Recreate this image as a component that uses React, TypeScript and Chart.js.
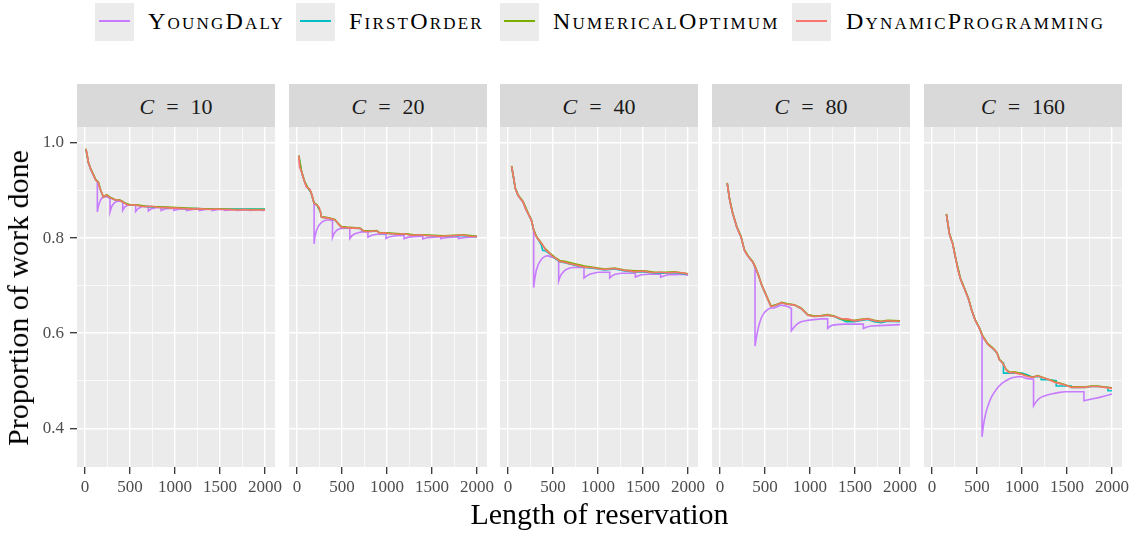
import React, { useEffect, useRef } from 'react';
import { Chart, registerables } from 'chart.js';

Chart.register(...registerables);

type Pts = [number, number][];

// ---------- labels ----------
const seriesNames = ['YoungDaly', 'FirstOrder', 'NumericalOptimum', 'DynamicProgramming'];
const seriesColors = ['#C77CFF', '#00BFC4', '#7CAE00', '#F8766D'];
const checkpointCosts = [10, 20, 40, 80, 160];
const xTickLabels = [0, 500, 1000, 1500, 2000];
const xMinorTicks = [250, 750, 1250, 1750];
const yTickLabels = [0.4, 0.6, 0.8, 1.0];
const yMinorTicks = [0.5, 0.7, 0.9];
const xTitle = 'Length of reservation';
const yTitle = 'Proportion of work done';

// ---------- C = 10 ----------
const c10Dp: Pts = [[10,0.987],[20,0.980],[37,0.959],[50,0.952],[63,0.945],[80,0.937],[93,0.933],[110,0.925],[119,0.922],[137,0.919],[148,0.917],[160,0.908],[174,0.900],[190,0.893],[204,0.886],[225,0.889],[241,0.890],[260,0.887],[278,0.885],[300,0.883],[333,0.880],[360,0.880],[389,0.879],[420,0.875],[444,0.873],[470,0.870],[500,0.869],[540,0.870],[574,0.869],[620,0.867],[685,0.866],[740,0.867],[796,0.865],[850,0.864],[907,0.864],[960,0.863],[1019,0.863],[1080,0.862],[1130,0.862],[1190,0.861],[1241,0.862],[1320,0.861],[1389,0.860],[1460,0.861],[1537,0.860],[1610,0.860],[1685,0.859],[1760,0.860],[1833,0.859],[1920,0.859],[2000,0.859]];
const c10No: Pts = [[10,0.988],[37,0.960],[63,0.946],[93,0.934],[119,0.923],[148,0.918],[174,0.901],[204,0.887],[241,0.891],[278,0.886],[333,0.881],[389,0.880],[444,0.874],[500,0.870],[574,0.870],[685,0.867],[796,0.866],[907,0.865],[1019,0.864],[1130,0.863],[1241,0.862],[1389,0.861],[1537,0.861],[1685,0.860],[1833,0.860],[2000,0.860]];
const c10Fo: Pts = [[10,0.987],[37,0.959],[63,0.945],[93,0.933],[119,0.922],[148,0.917],[174,0.900],[204,0.886],[241,0.890],[278,0.885],[333,0.880],[389,0.879],[444,0.873],[500,0.869],[574,0.869],[685,0.866],[796,0.865],[907,0.864],[1019,0.863],[1130,0.862],[1241,0.862],[1389,0.861],[1537,0.861],[1685,0.861],[1833,0.861],[2000,0.861]];
const c10Yd: Pts = [[10,0.987],[37,0.959],[63,0.945],[93,0.933],[119,0.922],[137,0.918],[137,0.855],[150,0.868],[165,0.877],[185,0.884],[210,0.887],[240,0.887],[278,0.884],[278,0.855],[295,0.866],[320,0.873],[350,0.877],[385,0.878],[419,0.877],[419,0.858],[440,0.865],[470,0.869],[510,0.870],[563,0.869],[563,0.856],[590,0.862],[630,0.866],[704,0.867],[704,0.857],[740,0.862],[790,0.864],[845,0.865],[845,0.858],[900,0.862],[987,0.863],[987,0.858],[1050,0.861],[1128,0.862],[1128,0.858],[1200,0.860],[1270,0.861],[1270,0.858],[1340,0.860],[1411,0.861],[1411,0.858],[1480,0.860],[1552,0.860],[1552,0.858],[1620,0.859],[1693,0.860],[1693,0.858],[1760,0.859],[1834,0.859],[1834,0.858],[1900,0.859],[1975,0.859],[1975,0.858],[2000,0.859]];

// ---------- C = 20 ----------
const c20Dp: Pts = [[20,0.973],[30,0.949],[50,0.940],[67,0.928],[85,0.918],[104,0.908],[120,0.905],[141,0.903],[155,0.896],[167,0.890],[180,0.880],[190,0.873],[205,0.871],[223,0.869],[245,0.865],[260,0.855],[271,0.844],[290,0.843],[308,0.843],[335,0.842],[364,0.841],[390,0.840],[420,0.838],[440,0.835],[457,0.830],[475,0.826],[494,0.823],[520,0.822],[550,0.822],[590,0.821],[624,0.821],[660,0.821],[699,0.820],[720,0.818],[736,0.815],[770,0.814],[810,0.814],[850,0.815],[885,0.815],[905,0.812],[922,0.810],[960,0.811],[996,0.810],[1030,0.809],[1071,0.809],[1110,0.808],[1145,0.808],[1180,0.809],[1219,0.808],[1260,0.806],[1294,0.806],[1350,0.807],[1405,0.806],[1460,0.805],[1517,0.805],[1570,0.804],[1628,0.804],[1680,0.805],[1740,0.805],[1800,0.806],[1851,0.806],[1920,0.804],[2000,0.803]];
const c20No: Pts = [[20,0.974],[50,0.941],[85,0.919],[120,0.906],[155,0.897],[190,0.874],[223,0.870],[260,0.856],[271,0.845],[308,0.844],[364,0.842],[420,0.839],[457,0.831],[494,0.824],[550,0.823],[624,0.822],[699,0.821],[736,0.816],[810,0.815],[885,0.816],[922,0.811],[996,0.811],[1071,0.810],[1145,0.809],[1219,0.809],[1294,0.807],[1405,0.807],[1517,0.806],[1628,0.805],[1740,0.806],[1851,0.807],[2000,0.804]];
const c20Fo: Pts = [[20,0.973],[50,0.940],[85,0.918],[120,0.905],[155,0.896],[190,0.873],[223,0.869],[260,0.855],[271,0.844],[308,0.843],[364,0.841],[420,0.838],[457,0.830],[494,0.823],[550,0.822],[624,0.821],[699,0.820],[736,0.815],[810,0.814],[885,0.815],[922,0.810],[996,0.810],[1071,0.809],[1145,0.808],[1219,0.808],[1294,0.806],[1405,0.806],[1517,0.805],[1628,0.804],[1740,0.805],[1851,0.805],[2000,0.803]];
const c20Yd: Pts = [[20,0.973],[30,0.949],[50,0.940],[67,0.928],[85,0.918],[104,0.908],[120,0.905],[141,0.903],[155,0.896],[167,0.890],[180,0.880],[190,0.873],[190,0.788],[200,0.805],[216,0.816],[235,0.824],[253,0.829],[280,0.834],[308,0.837],[340,0.838],[364,0.838],[394,0.837],[394,0.801],[410,0.809],[439,0.816],[465,0.819],[494,0.820],[540,0.821],[587,0.821],[587,0.799],[610,0.805],[643,0.809],[680,0.811],[717,0.813],[788,0.813],[788,0.802],[830,0.806],[885,0.808],[989,0.808],[989,0.799],[1030,0.803],[1100,0.805],[1189,0.806],[1189,0.799],[1240,0.802],[1300,0.803],[1398,0.804],[1398,0.798],[1450,0.801],[1520,0.802],[1598,0.803],[1598,0.799],[1650,0.801],[1720,0.802],[1795,0.803],[1795,0.799],[1850,0.801],[1920,0.802],[2000,0.803]];

// ---------- C = 40 ----------
const c40Dp: Pts = [[40,0.951],[60,0.930],[80,0.905],[111,0.890],[140,0.882],[167,0.876],[195,0.862],[222,0.852],[240,0.845],[259,0.838],[285,0.817],[300,0.808],[315,0.803],[340,0.796],[370,0.789],[390,0.784],[407,0.778],[430,0.773],[463,0.768],[490,0.762],[518,0.759],[545,0.755],[574,0.751],[600,0.750],[630,0.749],[680,0.746],[740,0.744],[800,0.741],[852,0.739],[900,0.738],[963,0.737],[1020,0.735],[1074,0.734],[1130,0.735],[1185,0.736],[1240,0.734],[1296,0.732],[1350,0.731],[1407,0.729],[1460,0.730],[1519,0.730],[1570,0.728],[1630,0.727],[1690,0.728],[1741,0.727],[1800,0.727],[1852,0.728],[1920,0.727],[1970,0.726],[2000,0.724]];
const c40No: Pts = [[40,0.952],[80,0.906],[111,0.891],[167,0.877],[222,0.853],[259,0.839],[285,0.818],[315,0.804],[370,0.790],[407,0.779],[463,0.769],[518,0.760],[574,0.753],[630,0.751],[740,0.746],[852,0.741],[963,0.738],[1074,0.735],[1185,0.737],[1296,0.733],[1407,0.731],[1519,0.731],[1630,0.728],[1741,0.728],[1852,0.729],[2000,0.725]];
const c40Fo: Pts = [[40,0.951],[80,0.905],[111,0.890],[167,0.876],[222,0.852],[259,0.838],[285,0.817],[315,0.803],[370,0.786],[385,0.774],[407,0.774],[463,0.767],[518,0.758],[574,0.750],[630,0.748],[740,0.743],[852,0.738],[963,0.736],[1074,0.733],[1185,0.735],[1296,0.731],[1407,0.729],[1519,0.729],[1630,0.726],[1741,0.726],[1852,0.727],[2000,0.724]];
const c40Yd: Pts = [[40,0.951],[60,0.930],[80,0.905],[111,0.890],[140,0.882],[167,0.876],[195,0.862],[222,0.852],[240,0.845],[259,0.838],[285,0.817],[285,0.696],[295,0.712],[315,0.733],[335,0.744],[352,0.750],[370,0.755],[389,0.759],[415,0.762],[444,0.763],[470,0.761],[500,0.759],[530,0.757],[563,0.754],[563,0.710],[575,0.717],[593,0.724],[620,0.730],[648,0.734],[685,0.737],[722,0.738],[780,0.738],[844,0.738],[844,0.716],[870,0.720],[907,0.724],[950,0.726],[1000,0.728],[1060,0.728],[1130,0.728],[1130,0.716],[1160,0.721],[1190,0.724],[1259,0.726],[1330,0.726],[1415,0.726],[1415,0.718],[1450,0.721],[1481,0.723],[1560,0.724],[1640,0.724],[1696,0.724],[1696,0.718],[1740,0.721],[1778,0.723],[1860,0.723],[1940,0.724],[2000,0.722]];

// ---------- C = 80 ----------
const c80Dp: Pts = [[80,0.915],[92,0.900],[104,0.884],[120,0.868],[141,0.852],[160,0.840],[185,0.824],[210,0.812],[233,0.803],[250,0.790],[270,0.775],[290,0.768],[315,0.761],[340,0.755],[363,0.750],[389,0.740],[405,0.733],[426,0.722],[445,0.712],[463,0.701],[490,0.690],[511,0.680],[540,0.667],[567,0.656],[595,0.657],[622,0.659],[655,0.662],[685,0.664],[720,0.662],[752,0.661],[790,0.660],[826,0.659],[860,0.656],[900,0.652],[940,0.645],[974,0.638],[1010,0.636],[1048,0.635],[1085,0.636],[1122,0.636],[1160,0.637],[1196,0.638],[1233,0.636],[1270,0.635],[1310,0.633],[1344,0.631],[1380,0.630],[1419,0.630],[1455,0.628],[1493,0.626],[1530,0.627],[1567,0.628],[1600,0.629],[1641,0.630],[1680,0.628],[1715,0.626],[1750,0.625],[1789,0.624],[1825,0.625],[1863,0.626],[1930,0.625],[2000,0.625]];
const c80No: Pts = [[80,0.916],[104,0.885],[141,0.853],[185,0.825],[233,0.804],[270,0.776],[315,0.762],[363,0.751],[389,0.741],[426,0.723],[463,0.702],[511,0.681],[567,0.657],[622,0.660],[685,0.665],[752,0.662],[826,0.660],[900,0.653],[974,0.639],[1048,0.636],[1122,0.637],[1196,0.639],[1270,0.636],[1344,0.630],[1419,0.627],[1493,0.627],[1567,0.629],[1641,0.631],[1715,0.627],[1789,0.625],[1863,0.627],[2000,0.626]];
const c80Fo: Pts = [[80,0.915],[104,0.884],[141,0.852],[185,0.824],[233,0.803],[270,0.775],[315,0.761],[363,0.750],[389,0.740],[426,0.722],[463,0.701],[511,0.680],[567,0.656],[622,0.659],[685,0.664],[752,0.661],[826,0.659],[900,0.652],[974,0.638],[1048,0.635],[1122,0.636],[1196,0.638],[1270,0.635],[1344,0.629],[1400,0.624],[1493,0.624],[1567,0.627],[1641,0.629],[1715,0.624],[1789,0.622],[1863,0.625],[2000,0.624]];
const c80Yd: Pts = [[80,0.915],[92,0.900],[104,0.884],[120,0.868],[141,0.852],[160,0.840],[185,0.824],[210,0.812],[233,0.803],[250,0.790],[270,0.775],[290,0.768],[315,0.761],[340,0.755],[363,0.750],[389,0.738],[389,0.573],[400,0.586],[419,0.606],[437,0.620],[456,0.631],[478,0.639],[500,0.645],[525,0.649],[548,0.652],[575,0.653],[604,0.653],[640,0.656],[678,0.659],[710,0.658],[733,0.657],[765,0.655],[793,0.652],[793,0.605],[815,0.611],[844,0.617],[870,0.621],[900,0.624],[950,0.626],[1011,0.628],[1070,0.629],[1122,0.630],[1196,0.630],[1196,0.610],[1220,0.614],[1252,0.617],[1300,0.618],[1381,0.619],[1480,0.619],[1593,0.619],[1593,0.610],[1630,0.613],[1678,0.615],[1760,0.616],[1880,0.617],[2000,0.618]];

// ---------- C = 160 ----------
const c160Dp: Pts = [[160,0.850],[175,0.832],[193,0.809],[212,0.797],[230,0.788],[248,0.770],[267,0.753],[290,0.732],[315,0.715],[338,0.703],[360,0.694],[382,0.683],[404,0.673],[423,0.660],[441,0.648],[460,0.638],[478,0.628],[503,0.619],[527,0.610],[545,0.601],[564,0.593],[590,0.585],[619,0.577],[645,0.572],[675,0.568],[700,0.564],[723,0.558],[735,0.551],[749,0.544],[770,0.540],[786,0.537],[805,0.530],[823,0.523],[842,0.519],[860,0.517],[890,0.517],[916,0.517],[950,0.515],[990,0.514],[1030,0.511],[1064,0.509],[1095,0.508],[1120,0.507],[1150,0.509],[1176,0.510],[1210,0.508],[1250,0.505],[1290,0.503],[1324,0.500],[1360,0.497],[1398,0.495],[1435,0.493],[1473,0.491],[1510,0.489],[1547,0.486],[1585,0.486],[1621,0.486],[1660,0.486],[1695,0.486],[1730,0.487],[1769,0.488],[1805,0.488],[1843,0.488],[1880,0.487],[1918,0.486],[1955,0.485],[2000,0.484]];
const c160No: Pts = [[160,0.851],[193,0.810],[230,0.789],[267,0.754],[315,0.716],[360,0.695],[404,0.674],[441,0.649],[478,0.629],[527,0.611],[564,0.594],[619,0.578],[675,0.569],[723,0.559],[749,0.545],[786,0.538],[823,0.524],[860,0.518],[916,0.519],[990,0.515],[1064,0.510],[1120,0.508],[1176,0.511],[1250,0.506],[1324,0.501],[1398,0.496],[1473,0.492],[1547,0.487],[1621,0.487],[1695,0.487],[1769,0.489],[1843,0.489],[1918,0.487],[2000,0.485]];
const c160Fo: Pts = [[160,0.850],[193,0.809],[230,0.788],[267,0.753],[315,0.715],[360,0.694],[404,0.673],[441,0.648],[478,0.628],[527,0.610],[564,0.593],[619,0.577],[675,0.568],[723,0.558],[749,0.544],[786,0.537],[794,0.537],[794,0.516],[1000,0.516],[1064,0.512],[1110,0.508],[1176,0.509],[1213,0.508],[1213,0.502],[1300,0.502],[1380,0.500],[1380,0.489],[1547,0.489],[1550,0.486],[1700,0.486],[1769,0.488],[1843,0.488],[1900,0.487],[1955,0.486],[1955,0.479],[2000,0.479]];
const c160Yd: Pts = [[160,0.850],[175,0.832],[193,0.809],[212,0.797],[230,0.788],[248,0.770],[267,0.753],[290,0.732],[315,0.715],[338,0.703],[360,0.694],[382,0.683],[404,0.673],[423,0.660],[441,0.648],[460,0.638],[478,0.628],[503,0.619],[527,0.610],[556,0.596],[556,0.382],[568,0.402],[582,0.418],[600,0.434],[619,0.446],[640,0.457],[664,0.467],[690,0.475],[712,0.481],[740,0.488],[768,0.493],[795,0.497],[823,0.500],[860,0.504],[898,0.507],[935,0.508],[972,0.509],[1010,0.508],[1046,0.505],[1090,0.504],[1128,0.503],[1128,0.447],[1150,0.454],[1176,0.460],[1200,0.464],[1231,0.467],[1280,0.470],[1324,0.472],[1400,0.475],[1473,0.477],[1580,0.477],[1688,0.477],[1688,0.458],[1760,0.461],[1840,0.464],[1920,0.468],[2000,0.472]];

const panelSeries: Pts[][] = [
  [c10Yd, c10Fo, c10No, c10Dp],
  [c20Yd, c20Fo, c20No, c20Dp],
  [c40Yd, c40Fo, c40No, c40Dp],
  [c80Yd, c80Fo, c80No, c80Dp],
  [c160Yd, c160Fo, c160No, c160Dp],
];

// ---------- layout ----------
const FONT = "'Liberation Serif', 'DejaVu Serif', serif";
const PANEL_LEFTS = [77, 289, 500, 712, 924];
const PANEL_W = 198;
const PLOT_TOP = 127;
const PLOT_H = 340;
const XAXIS_H = 40;
const PAD = 14;
const X_MIN = -89;
const X_MAX = 2111;
const Y_MIN = 0.3186;
const Y_MAX = 1.0336;

const panelBg = {
  id: 'panelBg',
  beforeDraw(chart: any) {
    const { ctx, chartArea: a } = chart;
    ctx.save();
    ctx.fillStyle = '#EBEBEB';
    ctx.fillRect(a.left, a.top, a.right - a.left, a.bottom - a.top);
    ctx.restore();
  },
};

const isMajorX = (v: number) => xTickLabels.some((t) => Math.abs(t - v) < 1e-6);
const isMajorY = (v: number) => yTickLabels.some((t) => Math.abs(t - v) < 1e-6);

function Panel({ idx }: { idx: number }) {
  const ref = useRef<HTMLCanvasElement>(null);
  const first = idx === 0;
  const left = first ? 0 : PANEL_LEFTS[idx] - PAD;
  const width = (first ? PANEL_LEFTS[0] : PAD) + PANEL_W + PAD;
  const height = PLOT_H + XAXIS_H;

  useEffect(() => {
    const series = panelSeries[idx];
    const order = [3, 2, 1, 0]; // DynamicProgramming drawn on top
    const datasets = order.map((s) => ({
      label: seriesNames[s],
      data: series[s].map(([x, y]) => ({ x, y })),
      borderColor: seriesColors[s],
      backgroundColor: seriesColors[s],
      borderWidth: 1.6,
      pointRadius: 0,
      tension: 0,
      fill: false,
    }));
    const xTicks = [...xTickLabels, ...xMinorTicks].sort((a, b) => a - b);
    const yTicks = [...yTickLabels, ...yMinorTicks].sort((a, b) => a - b);
    const chart = new Chart(ref.current as HTMLCanvasElement, {
      type: 'line',
      data: { datasets },
      options: {
        animation: false,
        responsive: false,
        devicePixelRatio: 1,
        layout: { autoPadding: false, padding: { left: first ? 0 : PAD, right: PAD, top: 0, bottom: 0 } },
        plugins: { legend: { display: false }, tooltip: { enabled: false } },
        scales: {
          x: {
            type: 'linear',
            bounds: 'data',
            min: X_MIN,
            max: X_MAX,
            afterBuildTicks: (s: any) => { s.ticks = xTicks.map((value) => ({ value })); },
            afterFit: (s: any) => { s.height = XAXIS_H; },
            border: { display: false },
            grid: {
              color: '#FFFFFF',
              lineWidth: (c: any) => (isMajorX(c.tick?.value) ? 1.4 : 0.7),
              tickColor: (c: any) => (isMajorX(c.tick?.value) ? '#333333' : 'rgba(0,0,0,0)'),
              tickWidth: 1.3,
              tickLength: 7,
              drawTicks: true,
            },
            ticks: {
              autoSkip: false,
              maxRotation: 0,
              minRotation: 0,
              padding: 3,
              color: '#4D4D4D',
              font: { family: FONT, size: 17 },
              callback: (v: any) => (isMajorX(Number(v)) ? String(Math.round(Number(v))) : ''),
            },
          },
          y: {
            type: 'linear',
            bounds: 'data',
            min: Y_MIN,
            max: Y_MAX,
            afterBuildTicks: (s: any) => { s.ticks = yTicks.map((value) => ({ value })); },
            afterFit: (s: any) => {
              s.width = first ? PANEL_LEFTS[0] : 0;
              s.paddingTop = 0;
              s.paddingBottom = 0;
            },
            border: { display: false },
            grid: {
              color: '#FFFFFF',
              lineWidth: (c: any) => (isMajorY(c.tick?.value) ? 1.4 : 0.7),
              tickColor: (c: any) => (first && isMajorY(c.tick?.value) ? '#333333' : 'rgba(0,0,0,0)'),
              tickWidth: 1.3,
              tickLength: first ? 7 : 0,
              drawTicks: first,
            },
            ticks: {
              autoSkip: false,
              display: first,
              padding: 6,
              color: '#4D4D4D',
              font: { family: FONT, size: 17 },
              callback: (v: any) => (isMajorY(Number(v)) ? Number(v).toFixed(1) : ''),
            },
          },
        },
      } as any,
      plugins: [panelBg],
    });
    return () => chart.destroy();
  }, [idx]);

  return (
    <canvas
      ref={ref}
      width={width}
      height={height}
      style={{ position: 'absolute', left, top: PLOT_TOP, width, height }}
    />
  );
}

const legendKeyLefts = [95, 296, 500, 792];
const legendTextLefts = [148, 349, 553, 846];

export default function App() {
  return (
    <div
      style={{
        position: 'absolute',
        left: 0,
        top: 0,
        width: 1133,
        height: 534,
        background: '#FFFFFF',
        overflow: 'hidden',
        fontFamily: FONT,
        color: '#000',
      }}
    >
      {/* legend */}
      {seriesNames.map((name, i) => (
        <React.Fragment key={name}>
          <div
            style={{
              position: 'absolute',
              left: legendKeyLefts[i],
              top: 3,
              width: 39,
              height: 38,
              background: '#EBEBEB',
            }}
          >
            <div
              style={{
                position: 'absolute',
                left: 4,
                top: 17,
                width: 31,
                height: 2,
                background: seriesColors[i],
              }}
            />
          </div>
          <div
            style={{
              position: 'absolute',
              left: legendTextLefts[i],
              top: 9,
              fontSize: 24,
              lineHeight: '24px',
              fontVariant: 'small-caps',
              letterSpacing: 2.2,
              whiteSpace: 'nowrap',
              color: '#000',
            }}
          >
            {name}
          </div>
        </React.Fragment>
      ))}

      {/* strips */}
      {checkpointCosts.map((c, i) => (
        <div
          key={c}
          style={{
            position: 'absolute',
            left: PANEL_LEFTS[i],
            top: 84,
            width: PANEL_W,
            height: PLOT_TOP - 84,
            background: '#D9D9D9',
            display: 'flex',
            alignItems: 'center',
            justifyContent: 'center',
            fontSize: 22,
            color: '#1A1A1A',
            paddingTop: 3,
            boxSizing: 'border-box',
          }}
        >
          <i>C</i>
          <span style={{ margin: '0 12px' }}>=</span>
          <span>{c}</span>
        </div>
      ))}

      {/* panels */}
      {checkpointCosts.map((c, i) => (
        <Panel key={c} idx={i} />
      ))}

      {/* axis titles */}
      <div
        style={{
          position: 'absolute',
          left: PANEL_LEFTS[0],
          width: PANEL_LEFTS[4] + PANEL_W - PANEL_LEFTS[0],
          top: 499,
          textAlign: 'center',
          fontSize: 30,
          lineHeight: '30px',
          whiteSpace: 'nowrap',
        }}
      >
        {xTitle}
      </div>
      <div
        style={{
          position: 'absolute',
          left: 18.3,
          top: 298.3,
          transform: 'translate(-50%, -50%) rotate(-90deg)',
          fontSize: 30,
          lineHeight: '30px',
          whiteSpace: 'nowrap',
        }}
      >
        {yTitle}
      </div>
    </div>
  );
}
